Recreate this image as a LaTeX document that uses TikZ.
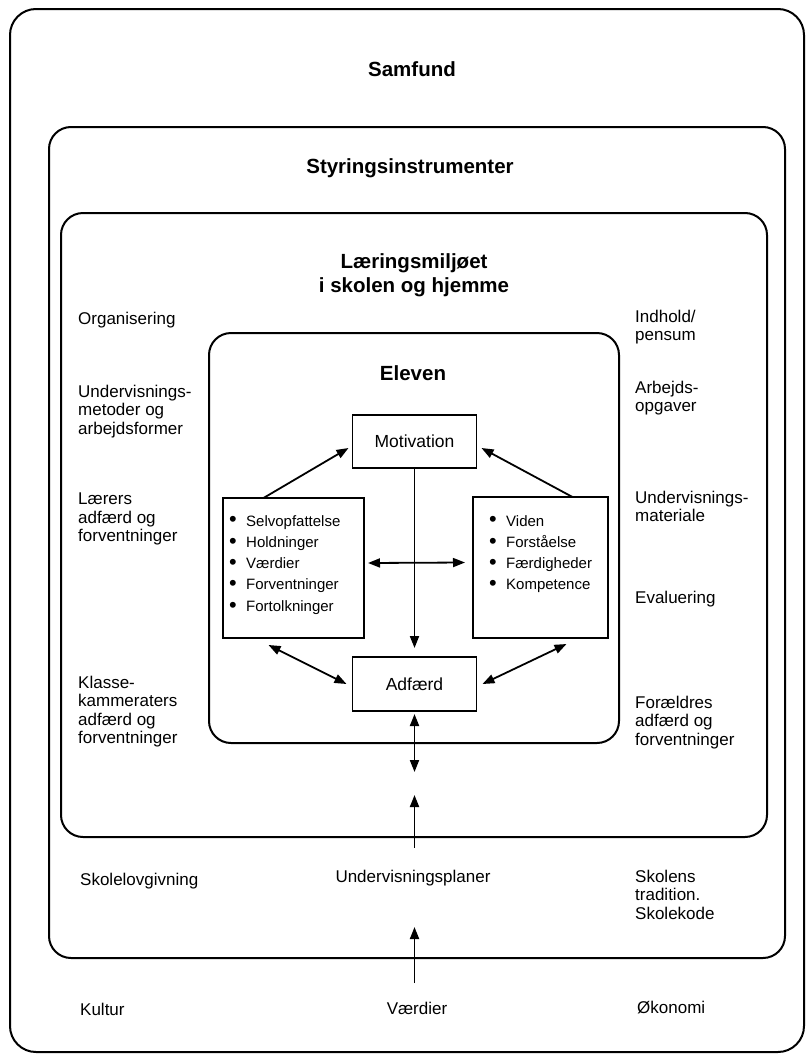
\documentclass[tikz,border=0pt]{standalone}
\usepackage{fontspec}
\setmainfont{Liberation Sans}
\usetikzlibrary{arrows.meta}
\newcommand\bul[1]{\makebox[17pt][l]{\raisebox{-0.8pt}{\scalebox{1.45}{\textbullet}}}#1}
\begin{document}
\begin{tikzpicture}[x=1pt,y=-1pt,
  rbox/.style={draw, line width=2pt, rounded corners=22pt, inner sep=0pt, outer sep=0pt},
  ibox/.style={draw, line width=1.9pt, inner sep=0pt, outer sep=0pt, font=\fontsize{17.5}{20}\selectfont},
  title/.style={font=\fontsize{20.5}{24}\selectfont\bfseries, align=center, inner sep=0pt},
  lbl/.style={font=\fontsize{17}{18.3}\selectfont, align=left, anchor=north west, inner sep=0pt},
  clbl/.style={font=\fontsize{17}{18.3}\selectfont, align=center},
  blist/.style={font=\fontsize{15}{21.3}\selectfont, align=left, anchor=north west, inner sep=0pt},
  arr/.style={line width=1.8pt, -{Triangle[length=12pt,width=9pt]}},
  darr/.style={line width=1.8pt, {Triangle[length=12pt,width=9pt]}-{Triangle[length=12pt,width=9pt]}}
]
\useasboundingbox (0,0) rectangle (809,1055);
\fill[white] (0,0) rectangle (809,1055);

% frames
\node[rbox, rounded corners=26pt, minimum width=794pt, minimum height=1043pt] (samf) at (407,530.5) {};
\node[rbox, minimum width=736pt, minimum height=831pt] (styr) at (417,542.5) {};
\node[rbox, minimum width=706pt, minimum height=624pt] (laer) at (414,525) {};
\node[rbox, minimum width=410pt, minimum height=410pt] (elev) at (414,538) {};

% titles
\node[title] (tsamf) at (412,69) {Samfund};
\node[title] (tstyr) at (410,168) {Styringsinstrumenter};
\node[title] (tlaer) at (414,275) {Læringsmiljøet\\i skolen og hjemme};
\node[title] (telev) at (413,373) {Eleven};

% inner boxes
\node[ibox, minimum width=124pt, minimum height=53pt] (mot) at (414.5,441.5) {Motivation};
\node[ibox, minimum width=141pt, minimum height=140pt] (lb) at (293.5,568) {};
\node[ibox, minimum width=135pt, minimum height=141pt] (rb) at (540.5,567.5) {};
\node[ibox, minimum width=124pt, minimum height=54pt] (adf) at (414.5,684) {Adfærd};

\node[blist] (llist) at (229,515) {\bul{Selvopfattelse}\\\bul{Holdninger}\\\bul{Værdier}\\\bul{Forventninger}\\\bul{Fortolkninger}};
\node[blist] (rlist) at (489,515) {\bul{Viden}\\\bul{Forståelse}\\\bul{Færdigheder}\\\bul{Kompetence}};

% side labels
\node[lbl] (org) at (78,312) {Organisering};
\node[lbl] (undm) at (78,385) {Undervisnings-\\metoder og\\arbejdsformer};
\node[lbl] (laerer) at (78,493) {Lærers\\adfærd og\\forventninger};
\node[lbl] (klasse) at (78,676) {Klasse-\\kammeraters\\adfærd og\\forventninger};
\node[lbl] (indhold) at (635,310) {Indhold/\\pensum};
\node[lbl] (arbejds) at (635,381) {Arbejds-\\opgaver};
\node[lbl] (undmat) at (635,491) {Undervisnings-\\materiale};
\node[lbl] (evalu) at (635,591) {Evaluering};
\node[lbl] (foraeld) at (635,696) {Forældres\\adfærd og\\forventninger};
\node[lbl] (skolelov) at (80,873) {Skolelovgivning};
\node[lbl] (skolens) at (635,870) {Skolens\\tradition.\\Skolekode};
\node[lbl] (kultur) at (80,1003) {Kultur};
\node[lbl] (oekon) at (637,1001) {Økonomi};
\node[clbl] (undplan) at (413,878) {Undervisningsplaner};
\node[clbl] (vaerd) at (417,1008) {Værdier};

% arrows
\draw[arr] ([xshift=-30pt]lb.north) -- ([xshift=-4pt,yshift=-6.5pt]mot.west);
\draw[arr] ([xshift=32pt]rb.north) -- ([xshift=5pt,yshift=-6.5pt]mot.east);
\draw[arr, shorten >=9pt] (mot.south) -- (adf.north);
\draw[darr] ([xshift=4pt,yshift=5pt]lb.east) -- ([xshift=-8pt,yshift=5pt]rb.west);
\draw[darr] ([xshift=-25pt,yshift=-7pt]lb.south) -- ([xshift=-6pt]adf.west);
\draw[darr] ([xshift=26pt,yshift=-6pt]rb.south) -- ([xshift=6pt]adf.east);
\coordinate (c1) at (414.5,772);
\draw[darr, shorten <=3pt] (adf.south) -- (c1);
\coordinate (tipU) at (414.5,795);
\draw[arr, shorten <=19pt] (undplan.north -| tipU) -- (tipU);
\coordinate (tipV) at (414.5,927);
\draw[arr, shorten <=15pt] (vaerd.north -| tipV) -- (tipV);
\end{tikzpicture}
\end{document}
